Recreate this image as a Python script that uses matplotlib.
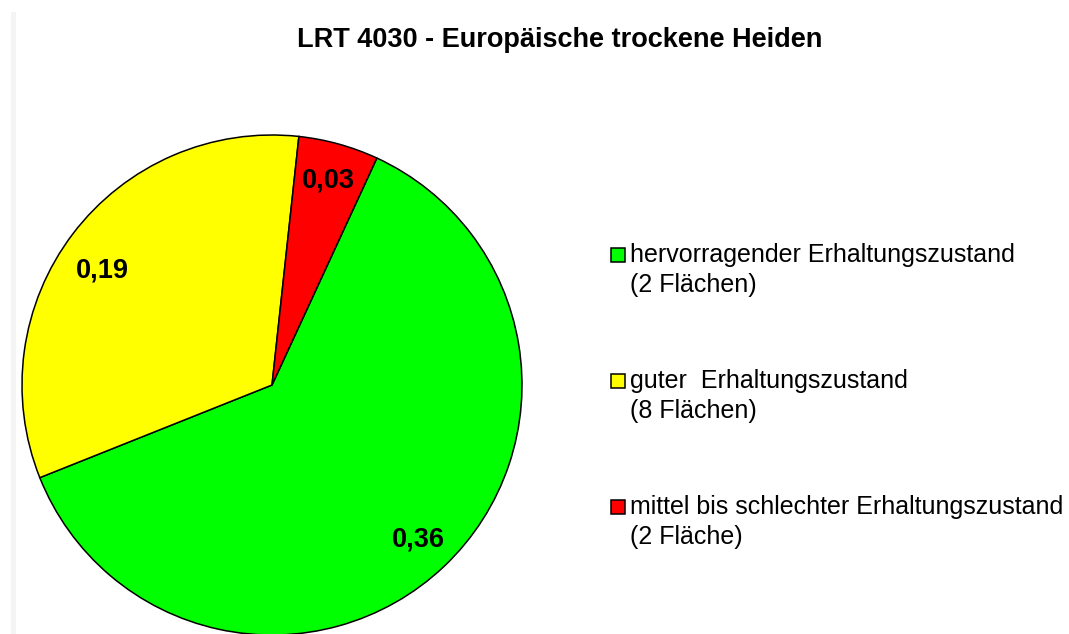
import matplotlib
matplotlib.use("Agg")
import matplotlib.pyplot as plt
from matplotlib.patches import Rectangle
import matplotlib.transforms as mtransforms

plt.rcParams['font.family'] = ['Liberation Sans', 'DejaVu Sans']

title = "LRT 4030 - Europäische trockene Heiden"
values = [0.36, 0.19, 0.03]
value_labels = ["0,36", "0,19", "0,03"]
legend_line1 = ["hervorragender Erhaltungszustand",
                "guter  Erhaltungszustand",
                "mittel bis schlechter Erhaltungszustand"]
legend_line2 = ["(2 Flächen)", "(8 Flächen)", "(2 Fläche)"]
colors = ["#00FF00", "#FFFF00", "#FF0000"]

W, H = 1069, 634
fig = plt.figure(figsize=(W / 100, H / 100), dpi=100)

def fx(px):
    return px / W

def fy(py):
    return 1 - py / H

# light gray strip on the left
fig.patches.append(Rectangle((fx(11), 0), fx(5), fy(12), transform=fig.transFigure,
                             facecolor="#f4f4f4", edgecolor="none", zorder=0))

# pie axes: center (272, 385), radius 250 px
cx, cy, r = 272, 385, 250
ax = fig.add_axes([fx(cx - r), fy(cy + r), 2 * r / W, 2 * r / H])
vals_iter = iter(value_labels)
wedges, texts, autotexts = ax.pie(
    values, colors=colors, startangle=65.2, counterclock=False,
    wedgeprops=dict(edgecolor="black", linewidth=1.1),
    autopct=lambda p: next(vals_iter), pctdistance=0.85,
    textprops=dict(fontsize=19.5, fontweight="bold", color="black"))
ax.set_xlim(-1, 1)
ax.set_ylim(-1, 1)
ax.set_aspect("equal")
ax.axis("off")
for w in wedges:
    w.set_clip_on(False)
# Excel places the yellow label a little lower
autotexts[1].set_transform(ax.transData + mtransforms.ScaledTranslation(
    0, -14 / 100, fig.dpi_scale_trans))

fig.text(fx(560), fy(40), title, ha="center", va="center",
         fontsize=19.5, fontweight="bold")

# legend
entry_y = [255, 381, 507]
for i in range(3):
    y = entry_y[i]
    fig.patches.append(Rectangle((fx(611), fy(y + 6.5)), 13.5 / W, 13.5 / H,
                                 transform=fig.transFigure,
                                 facecolor=wedges[i].get_facecolor(),
                                 edgecolor="black", linewidth=1.1))
    fig.text(fx(630), fy(y + 7), legend_line1[i], ha="left", va="baseline",
             fontsize=18)
    fig.text(fx(630), fy(y + 37), legend_line2[i], ha="left", va="baseline",
             fontsize=18)

fig.savefig("out.png", dpi=100)
